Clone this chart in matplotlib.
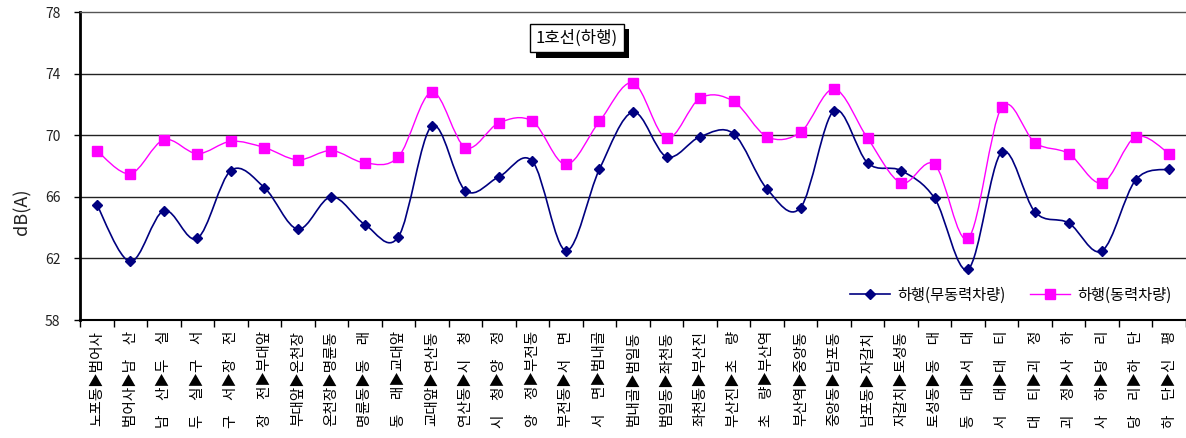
import numpy as np
import matplotlib
matplotlib.use("Agg")
import matplotlib.pyplot as plt
from matplotlib.path import Path
from matplotlib.patches import PathPatch
from matplotlib.lines import Line2D
from matplotlib.ticker import FixedLocator, NullFormatter
import matplotlib.patheffects as pe

plt.rcParams['font.family'] = ['Noto Sans CJK KR', 'DejaVu Sans']

# 구간 이름 (두 칸 공백은 전각 공백 하나로 바꿔서 세로 정렬을 맞춘다)
sections = [
    "노포동▶범어사", "범어사▶남  산", "남  산▶두  실", "두  실▶구  서",
    "구  서▶장  전", "장  전▶부대앞", "부대앞▶온천장", "온천장▶명륜동",
    "명륜동▶동  래", "동  래▶교대앞", "교대앞▶연산동", "연산동▶시  청",
    "시  청▶양  정", "양  정▶부전동", "부전동▶서  면", "서  면▶범내골",
    "범내골▶범일동", "범일동▶좌천동", "좌천동▶부산진", "부산진▶초  량",
    "초  량▶부산역", "부산역▶중앙동", "중앙동▶남포동", "남포동▶자갈치",
    "자갈치▶토성동", "토성동▶동  대", "동  대▶서  대", "서  대▶대  티",
    "대  티▶괴  정", "괴  정▶사  하", "사  하▶당  리", "당  리▶하  단",
    "하  단▶신  평",
]

# 하행 무동력차량 소음도 dB(A)
unpowered = [65.5, 61.8, 65.1, 63.3, 67.7, 66.6, 63.9, 66.0, 64.2, 63.4,
             70.6, 66.4, 67.3, 68.3, 62.5, 67.8, 71.5, 68.6, 69.9, 70.1,
             66.5, 65.3, 71.6, 68.2, 67.7, 65.9, 61.3, 68.9, 65.0, 64.3,
             62.5, 67.1, 67.8]

# 하행 동력차량 소음도 dB(A)
powered = [69.0, 67.5, 69.7, 68.8, 69.6, 69.2, 68.4, 69.0, 68.2, 68.6,
           72.8, 69.2, 70.8, 70.9, 68.1, 70.9, 73.4, 69.8, 72.4, 72.2,
           69.9, 70.2, 73.0, 69.8, 66.9, 68.1, 63.3, 71.8, 69.5, 68.8,
           66.9, 69.9, 68.8]

y_ticks = [58, 62, 66, 70, 74, 78]


def smooth_path(xs, ys):
    # 엑셀식 부드러운 선: Catmull-Rom 을 3차 베지어로 바꿔서 그린다
    P = np.column_stack([xs, ys]).astype(float)
    n = len(P)
    verts = [P[0]]
    codes = [Path.MOVETO]
    for i in range(n - 1):
        p0 = P[i - 1] if i > 0 else P[i]
        p3 = P[i + 2] if i + 2 < n else P[i + 1]
        c1 = P[i] + (P[i + 1] - p0) / 6.0
        c2 = P[i + 1] - (p3 - P[i]) / 6.0
        verts += [c1, c2, P[i + 1]]
        codes += [Path.CURVE4] * 3
    return Path(verts, codes)


fig = plt.figure(figsize=(11.86, 4.38), dpi=100)
ax = fig.add_axes([80 / 1186, 1 - 320 / 438, 1 - 80 / 1186, 308 / 438])

x = np.arange(len(sections))
navy = '#000080'
pink = '#FF00FF'

ax.add_patch(PathPatch(smooth_path(x, unpowered), fill=False,
                       edgecolor=navy, lw=1.2, zorder=3))
ax.add_patch(PathPatch(smooth_path(x, powered), fill=False,
                       edgecolor=pink, lw=1.0, zorder=3))
ax.plot(x, unpowered, ls='none', marker='D', ms=5, color=navy, zorder=4)
ax.plot(x, powered, ls='none', marker='s', ms=7, color=pink, zorder=4)

ax.set_xlim(-0.5, len(sections) - 0.5)
ax.set_ylim(58, 78)

ax.set_yticks(y_ticks)
ax.tick_params(axis='y', direction='out', length=4, width=1, pad=10,
               labelsize=10, labelcolor='#222222')
for v in y_ticks[1:-1]:
    ax.axhline(v, color='#222222', lw=1, zorder=1)

ax.set_xticks(x)
ax.set_xticklabels([s.replace('  ', '\u3000') for s in sections],
                   rotation=90, fontsize=10.5, va='top', ha='center')
ax.tick_params(axis='x', which='major', length=0, pad=8)
ax.xaxis.set_minor_locator(FixedLocator(np.arange(len(sections) + 1) - 0.5))
ax.xaxis.set_minor_formatter(NullFormatter())
ax.tick_params(axis='x', which='minor', direction='out', length=5, width=1)

ax.spines['left'].set_linewidth(2)
ax.spines['bottom'].set_linewidth(1.5)
ax.spines['top'].set_color('#555555')
ax.spines['top'].set_linewidth(1)
ax.spines['right'].set_visible(False)

fig.text(22 / 1186, 1 - 212 / 438, 'dB(A)', rotation=90, fontsize=13,
         ha='center', va='center', color='#222222')

# 제목 상자 (검은 그림자 포함)
title = fig.text(577 / 1186, 1 - 38 / 438, '1호선(하행)', fontsize=12,
                 ha='center', va='center', color='black',
                 bbox=dict(boxstyle='square,pad=0.35', fc='white', ec='black', lw=1))
title.get_bbox_patch().set_path_effects([
    pe.SimplePatchShadow(offset=(4, -4), shadow_rgbFace='black', alpha=1.0),
    pe.Normal(),
])

handles = [
    Line2D([], [], color=navy, lw=1.2, marker='D', ms=5),
    Line2D([], [], color=pink, lw=1.0, marker='s', ms=7),
]
fig.legend(handles, ['하행(무동력차량)', '하행(동력차량)'], ncol=2, frameon=False,
           loc='center', bbox_to_anchor=(1011 / 1186, 1 - 295 / 438),
           fontsize=11, handlelength=2.6, columnspacing=1.6, handletextpad=0.5)

fig.savefig('out.png', dpi=100)
